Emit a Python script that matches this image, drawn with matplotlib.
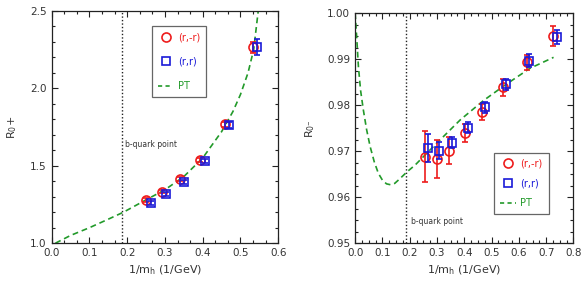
import matplotlib
matplotlib.use("Agg")
import matplotlib.pyplot as plt
from matplotlib.lines import Line2D
from matplotlib.ticker import MultipleLocator, AutoMinorLocator, FormatStrFormatter

plt.rcParams['font.family'] = ['DejaVu Sans']

# ---------------- data: left panel R_0+ ----------------
l_rmr_x = [0.250, 0.293, 0.341, 0.394, 0.458, 0.534]
l_rmr_y = [1.279, 1.333, 1.415, 1.537, 1.767, 2.266]
l_rmr_e = [0.012, 0.012, 0.012, 0.012, 0.015, 0.035]
l_rr_x = [0.262, 0.302, 0.350, 0.405, 0.469, 0.544]
l_rr_y = [1.258, 1.316, 1.397, 1.531, 1.763, 2.266]
l_rr_e = [0.012, 0.012, 0.012, 0.012, 0.020, 0.050]
l_pt_x = [0.01, 0.05, 0.10, 0.15, 0.19, 0.25, 0.30, 0.35, 0.40, 0.45, 0.48, 0.50, 0.52, 0.535, 0.548]
l_pt_y = [1.00, 1.05, 1.10, 1.155, 1.20, 1.28, 1.345, 1.43, 1.55, 1.72, 1.85, 1.96, 2.10, 2.25, 2.52]

# ---------------- data: right panel R_0- ----------------
r_rmr_x = [0.257, 0.300, 0.345, 0.402, 0.466, 0.543, 0.628, 0.726]
r_rmr_y = [0.9688, 0.9683, 0.9701, 0.9739, 0.9785, 0.9839, 0.9893, 0.9950]
r_rmr_e = [0.0055, 0.0042, 0.0029, 0.0020, 0.0018, 0.0019, 0.0017, 0.0022]
r_rr_x = [0.268, 0.308, 0.356, 0.412, 0.475, 0.552, 0.637, 0.738]
r_rr_y = [0.9707, 0.9701, 0.9718, 0.9751, 0.9795, 0.9845, 0.9897, 0.9949]
r_rr_e = [0.0030, 0.0018, 0.0012, 0.0012, 0.0013, 0.0013, 0.0015, 0.0015]
r_pt_x = [0.0, 0.006, 0.012, 0.02, 0.03, 0.042, 0.055, 0.07, 0.085, 0.10, 0.115, 0.13, 0.145,
          0.16, 0.19, 0.22, 0.30, 0.385, 0.47, 0.545, 0.64, 0.727]
r_pt_y = [1.0, 0.9945, 0.9884, 0.9832, 0.9790, 0.9747, 0.9710, 0.9677, 0.9652, 0.9637, 0.9629,
          0.9627, 0.9630, 0.9638, 0.9655, 0.9670, 0.9718, 0.9768, 0.9810, 0.9842, 0.9880, 0.9904]

bquark_x = 0.187
labels = ['(r,-r)', '(r,r)', 'PT']

RED = '#ee1c1c'
BLUE = '#1a1ad8'
GREEN = '#229a2a'
TXT = '#333333'

fig = plt.figure(figsize=(5.87, 2.93), dpi=100)
axL = fig.add_axes([0.088, 0.170, 0.386, 0.793])
axR = fig.add_axes([0.605, 0.170, 0.372, 0.785])


def style(ax):
    ax.tick_params(which='both', direction='in', top=True, right=True, labelsize=7.5,
                   colors='#222222', labelcolor=TXT, width=0.8)
    ax.tick_params(which='major', length=4)
    ax.tick_params(which='minor', length=2)
    for s in ax.spines.values():
        s.set_color('#222222')
        s.set_linewidth(0.9)


def draw(ax, rx, ry, re, bx, by, be, px, py):
    ax.plot(px, py, color=GREEN, lw=1.2, dashes=(3.5, 2.3), zorder=2)
    ax.errorbar(rx, ry, yerr=re, fmt='o', ms=6.5, mfc='none', mec=RED, mew=1.2,
                ecolor=RED, elinewidth=1.2, capsize=2, capthick=1.2, zorder=3)
    ax.errorbar(bx, by, yerr=be, fmt='s', ms=5.8, mfc='none', mec=BLUE, mew=1.2,
                ecolor=BLUE, elinewidth=1.2, capsize=2, capthick=1.2, zorder=4)
    ax.axvline(bquark_x, color='#222222', lw=1.0, ls=(0, (1, 1.5)), zorder=1)


def legend(ax, anchor, spacing):
    handles = [Line2D([], [], ls='none', marker='o', ms=6.5, mfc='none', mec=RED, mew=1.2),
               Line2D([], [], ls='none', marker='s', ms=5.8, mfc='none', mec=BLUE, mew=1.2),
               Line2D([], [], color=GREEN, lw=1.2, dashes=(2.5, 2.0))]
    leg = ax.legend(handles, labels, loc='upper left', bbox_to_anchor=anchor,
                    borderaxespad=0, fancybox=False, framealpha=1, edgecolor='#666666',
                    fontsize=7, handlelength=1.6, handletextpad=0.5, labelspacing=spacing,
                    borderpad=0.6)
    leg.get_frame().set_linewidth(0.9)
    for t, c in zip(leg.get_texts(), [RED, BLUE, GREEN]):
        t.set_color(c)


# Left
draw(axL, l_rmr_x, l_rmr_y, l_rmr_e, l_rr_x, l_rr_y, l_rr_e, l_pt_x, l_pt_y)
axL.set_xlim(0.0, 0.6)
axL.set_ylim(1.0, 2.5)
axL.xaxis.set_major_locator(MultipleLocator(0.1))
axL.xaxis.set_minor_locator(AutoMinorLocator(3))
axL.yaxis.set_major_locator(MultipleLocator(0.5))
axL.yaxis.set_minor_locator(AutoMinorLocator(5))
axL.xaxis.set_major_formatter(FormatStrFormatter('%.1f'))
axL.yaxis.set_major_formatter(FormatStrFormatter('%.1f'))
style(axL)
axL.set_xlabel(r'1/m$_\mathregular{h}$ (1/GeV)', fontsize=8, color=TXT, labelpad=4)
axL.set_ylabel(r'R$_\mathregular{0}$+', fontsize=8, color=TXT, labelpad=8)
axL.text(0.194, 1.64, 'b-quark point', fontsize=5.5, color=TXT, va='center', ha='left')
legend(axL, (0.443, 0.934), 1.5)

# Right
draw(axR, r_rmr_x, r_rmr_y, r_rmr_e, r_rr_x, r_rr_y, r_rr_e, r_pt_x, r_pt_y)
axR.set_xlim(0.0, 0.8)
axR.set_ylim(0.95, 1.0)
axR.xaxis.set_major_locator(MultipleLocator(0.1))
axR.xaxis.set_minor_locator(AutoMinorLocator(4))
axR.yaxis.set_major_locator(MultipleLocator(0.01))
axR.yaxis.set_minor_locator(AutoMinorLocator(4))
axR.xaxis.set_major_formatter(FormatStrFormatter('%.1f'))
axR.yaxis.set_major_formatter(FormatStrFormatter('%.2f'))
style(axR)
axR.set_xlabel(r'1/m$_\mathregular{h}$ (1/GeV)', fontsize=8, color=TXT, labelpad=4)
axR.set_ylabel(r'R$_\mathregular{0^{-}}$', fontsize=8, color=TXT, labelpad=7)
axR.text(0.205, 0.9547, 'b-quark point', fontsize=5.5, color=TXT, va='center', ha='left')
legend(axR, (0.637, 0.393), 1.0)

fig.savefig('out.png', dpi=100)
